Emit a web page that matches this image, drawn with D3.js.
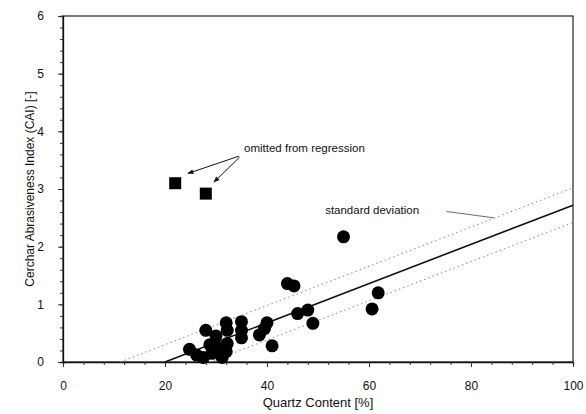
<!DOCTYPE html>
<html><head><meta charset="utf-8">
<script src="https://cdn.jsdelivr.net/npm/d3@7"></script>
<style>body{margin:0;background:#fff}svg{display:block}text{font-family:"Liberation Sans",Arial,sans-serif;fill:#111}</style>
</head><body><svg id="c" width="586" height="414"></svg>
<script>
const xTicks = [0, 20, 40, 60, 80, 100];
const yTicks = [0, 1, 2, 3, 4, 5, 6];
const quartz = [24.8, 26.2, 27.5, 28, 28.8, 29.2, 30, 30.5, 31.2, 32, 32.2, 32.2, 32, 35, 35, 35, 38.5, 39.5, 40, 41, 44, 45.3, 46, 48, 49, 55, 60.6, 61.8];
const cai    = [0.22, 0.12, 0.08, 0.55, 0.3, 0.15, 0.45, 0.25, 0.08, 0.68, 0.55, 0.32, 0.18, 0.7, 0.55, 0.42, 0.47, 0.58, 0.68, 0.28, 1.36, 1.32, 0.84, 0.9, 0.67, 2.17, 0.92, 1.2];
const omittedQuartz = [22, 28];
const omittedCai = [3.1, 2.92];
const regX = [20, 100], regY = [0, 2.72];
const sdUpX = [11.2, 100], sdUpY = [0, 3.02];
const sdLoX = [28.8, 100], sdLoY = [0, 2.42];

const svg = d3.select("#c");
const x = d3.scaleLinear().domain([0, 100]).range([63, 573]);
const y = d3.scaleLinear().domain([0, 6]).range([362, 16]);

// frame
svg.append("rect").attr("x", x(0)).attr("y", y(6)).attr("width", x(100) - x(0)).attr("height", y(0) - y(6))
  .attr("fill", "none").attr("stroke", "#222").attr("stroke-width", 1.2);

// x axis
const gx = svg.append("g").attr("transform", `translate(0,${y(0)})`);
gx.call(d3.axisBottom(x).tickValues(d3.range(0, 101, 4)).tickSize(3).tickFormat(""));
gx.call(g => g.selectAll(".domain").attr("stroke", "#111").attr("stroke-width", 1.3));
const gx2 = svg.append("g").attr("transform", `translate(0,${y(0)})`);
gx2.call(d3.axisBottom(x).tickValues(xTicks).tickSize(5).tickPadding(14).tickFormat(d3.format("d")));
gx2.select(".domain").remove();
gx2.selectAll("text").attr("font-size", 12).attr("font-family", "Liberation Sans, Arial, sans-serif").attr("fill", "#222");

// y axis
const gy = svg.append("g").attr("transform", `translate(${x(0)},0)`);
gy.call(d3.axisLeft(y).tickValues(d3.range(0, 6.01, 0.2)).tickSize(3).tickFormat(""));
gy.call(g => g.selectAll(".domain").attr("stroke", "#111").attr("stroke-width", 1.3));
const gy2 = svg.append("g").attr("transform", `translate(${x(0)},0)`);
gy2.call(d3.axisLeft(y).tickValues(yTicks).tickSize(5).tickPadding(14).tickFormat(d3.format("d")));
gy2.select(".domain").remove();
gy2.selectAll("text").attr("font-size", 12).attr("font-family", "Liberation Sans, Arial, sans-serif").attr("fill", "#222");
svg.selectAll(".tick line").attr("stroke", "#333");

// axis titles
svg.append("text").attr("x", x(50)).attr("y", 407).attr("text-anchor", "middle").attr("font-size", 13).text("Quartz Content [%]");
svg.append("text").attr("transform", `translate(34,${y(3)}) rotate(-90)`).attr("text-anchor", "middle").attr("font-size", 12).text("Cerchar Abrasiveness Index (CAI) [-]");

// lines
const line = d3.line().x(d => x(d[0])).y(d => y(d[1]));
svg.append("path").attr("d", line(d3.zip(sdUpX, sdUpY))).attr("fill", "none").attr("stroke", "#888").attr("stroke-width", 1).attr("stroke-dasharray", "1.5,3");
svg.append("path").attr("d", line(d3.zip(sdLoX, sdLoY))).attr("fill", "none").attr("stroke", "#888").attr("stroke-width", 1).attr("stroke-dasharray", "1.5,3");
svg.append("path").attr("d", line(d3.zip(regX, regY))).attr("fill", "none").attr("stroke", "#111").attr("stroke-width", 1.6);

// points
svg.append("g").selectAll("circle").data(d3.zip(quartz, cai)).join("circle")
  .attr("cx", d => x(d[0])).attr("cy", d => y(d[1])).attr("r", 6.5).attr("fill", "#000");
svg.append("g").selectAll("rect").data(d3.zip(omittedQuartz, omittedCai)).join("rect")
  .attr("x", d => x(d[0]) - 6).attr("y", d => y(d[1]) - 6).attr("width", 12).attr("height", 12).attr("fill", "#000");

// annotations
const defs = svg.append("defs");
defs.append("marker").attr("id", "ah").attr("viewBox", "0 0 10 10").attr("refX", 9).attr("refY", 5)
  .attr("markerWidth", 7).attr("markerHeight", 6).attr("orient", "auto")
  .append("path").attr("d", "M0,1 L10,5 L0,9 z").attr("fill", "#111");
svg.append("text").attr("x", x(35.5)).attr("y", y(3.64)).attr("font-size", 11.5).text("omitted from regression");
svg.append("line").attr("x1", x(34.5)).attr("y1", y(3.57)).attr("x2", x(24.5)).attr("y2", y(3.27))
  .attr("stroke", "#111").attr("stroke-width", 1).attr("marker-end", "url(#ah)");
svg.append("line").attr("x1", x(34.6)).attr("y1", y(3.55)).attr("x2", x(29.6)).attr("y2", y(3.12))
  .attr("stroke", "#111").attr("stroke-width", 1).attr("marker-end", "url(#ah)");
svg.append("text").attr("x", x(51.4)).attr("y", y(2.57)).attr("font-size", 11.5).text("standard deviation");
svg.append("line").attr("x1", x(75.2)).attr("y1", y(2.61)).attr("x2", x(84.5)).attr("y2", y(2.5))
  .attr("stroke", "#444").attr("stroke-width", 0.8);
</script></body></html>
